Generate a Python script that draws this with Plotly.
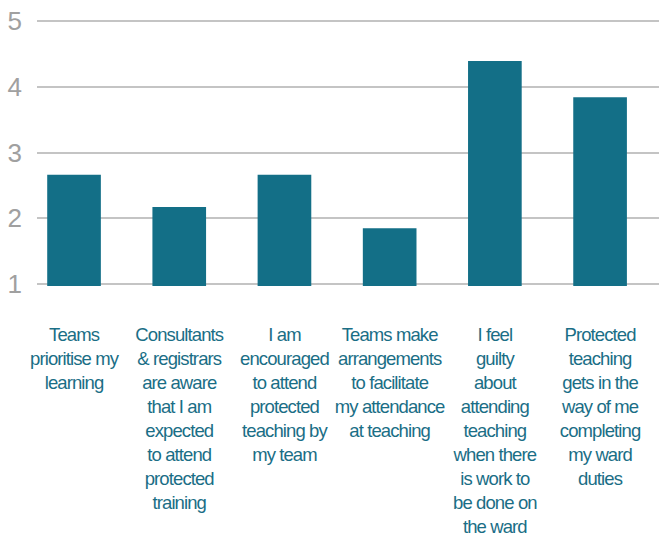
import plotly.graph_objects as go

categories = [
    "Teams prioritise my learning",
    "Consultants & registrars are aware that I am expected to attend protected training",
    "I am encouraged to attend protected teaching by my team",
    "Teams make arrangements to facilitate my attendance at teaching",
    "I feel guilty about attending teaching when there is work to be done on the ward",
    "Protected teaching gets in the way of me completing my ward duties",
]
label_lines = [
    ["Teams", "prioritise my", "learning"],
    ["Consultants", "&amp; registrars", "are aware", "that I am", "expected", "to attend", "protected", "training"],
    ["I am", "encouraged", "to attend", "protected", "teaching by", "my team"],
    ["Teams make", "arrangements", "to facilitate", "my attendance", "at teaching"],
    ["I feel", "guilty", "about", "attending", "teaching", "when there", "is work to", "be done on", "the ward"],
    ["Protected", "teaching", "gets in the", "way of me", "completing", "my ward", "duties"],
]
values = [2.66, 2.17, 2.66, 1.85, 4.39, 3.84]
y_ticks = [1, 2, 3, 4, 5]

TEAL = "#136f87"
LABEL_TEAL = "#1a6e86"
FONT = "Liberation Sans, Arial, sans-serif"

tick_text = [
    "<br>".join('<span style="letter-spacing:-0.9px">%s</span>' % ln for ln in lines)
    for lines in label_lines
]

fig = go.Figure(
    go.Bar(
        x=categories,
        y=values,
        marker=dict(color=TEAL, line=dict(width=0)),
        width=0.51,
        hoverinfo="x+y",
    )
)

fig.update_layout(
    width=659,
    height=537,
    margin=dict(l=37, r=0, t=18.5, b=251, autoexpand=False),
    paper_bgcolor="white",
    plot_bgcolor="white",
    showlegend=False,
    font=dict(family=FONT),
)
fig.update_xaxes(
    type="category",
    range=[-0.352, 5.56],
    tickmode="array",
    tickvals=categories,
    ticktext=tick_text,
    tickangle=0,
    tickfont=dict(family=FONT, size=18.5, color=LABEL_TEAL),
    showgrid=False,
    showline=False,
    ticks="",
    ticklabelstandoff=35,
    automargin=False,
)
fig.update_yaxes(
    range=[0.97, 5.03],
    tickvals=y_ticks,
    tickfont=dict(family=FONT, size=26, color="#a0a0a0"),
    showgrid=True,
    gridcolor="#c4c4c4",
    gridwidth=1.6,
    zeroline=False,
    showline=False,
    ticks="",
    ticklabelstandoff=14,
    ticklabeloverflow="allow",
    automargin=False,
)

fig.write_html(
    "out.html",
    config={"displayModeBar": False},
    post_script="document.body.style.margin='0px';",
)
